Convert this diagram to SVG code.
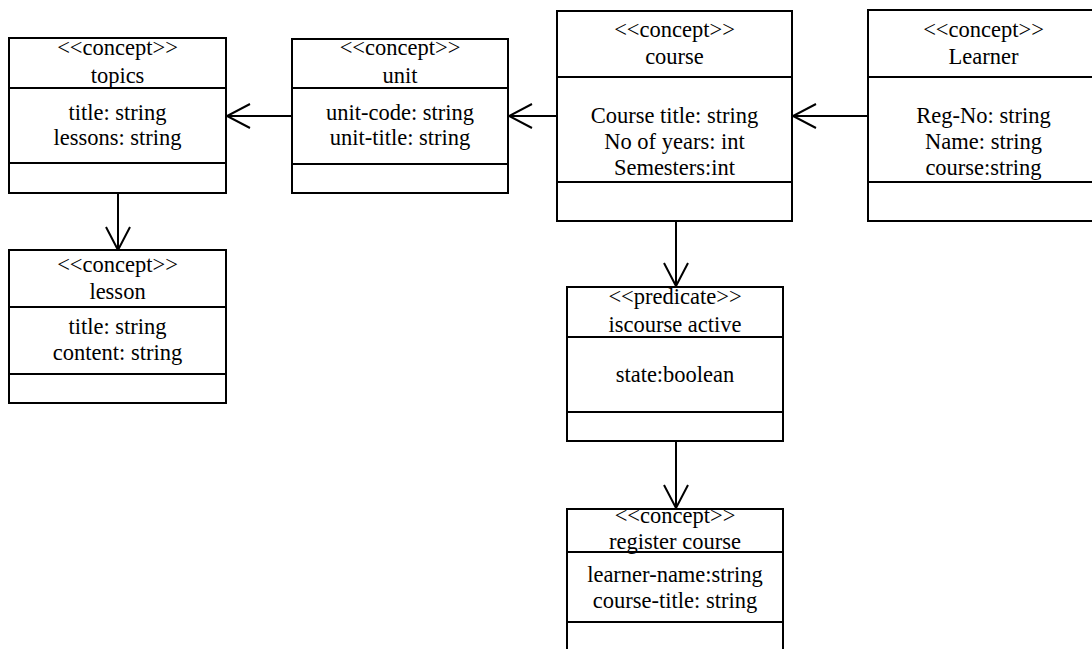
<svg xmlns="http://www.w3.org/2000/svg" width="1092" height="649" viewBox="0 0 1092 649">
<style>
.box{fill:#fff;stroke:#000;stroke-width:2}
.div{stroke:#000;stroke-width:2}
text{font-family:'Liberation Serif',serif;font-size:22.5px;fill:#000;text-anchor:middle}
.conn{stroke:#000;stroke-width:2;fill:none;marker-end:url(#open)}
</style>
<defs>
<marker id="open" markerUnits="userSpaceOnUse" markerWidth="30" markerHeight="30" viewBox="-26 -15 30 30" refX="0" refY="0" orient="auto">
<path d="M -23 -12 L 0 0 L -23 12" fill="none" stroke="#000" stroke-width="2"/>
</marker>
</defs>
<rect width="1092" height="649" fill="#fff"/>
<g id="connectors">
<line class="conn" x1="292" y1="116" x2="227" y2="116"/>
<line class="conn" x1="557" y1="116" x2="509" y2="116"/>
<line class="conn" x1="868" y1="116" x2="793" y2="116"/>
<line class="conn" x1="118" y1="193" x2="118" y2="250"/>
<line class="conn" x1="676" y1="221" x2="676" y2="286"/>
<line class="conn" x1="676" y1="441" x2="676" y2="508"/>
</g>
<g id="topics">
<rect class="box" x="9" y="38" width="217" height="155"/>
<line class="div" x1="9" y1="88" x2="226" y2="88"/>
<line class="div" x1="9" y1="163" x2="226" y2="163"/>
<text x="117.5" y="55">&lt;&lt;concept&gt;&gt;</text>
<text x="117.5" y="83">topics</text>
<text x="117.5" y="119.5">title: string</text>
<text x="117.5" y="145">lessons: string</text>
</g>
<g id="unit">
<rect class="box" x="292" y="39" width="216" height="154"/>
<line class="div" x1="292" y1="88" x2="508" y2="88"/>
<line class="div" x1="292" y1="164" x2="508" y2="164"/>
<text x="400" y="55">&lt;&lt;concept&gt;&gt;</text>
<text x="400" y="83">unit</text>
<text x="400" y="119.5">unit-code: string</text>
<text x="400" y="145">unit-title: string</text>
</g>
<g id="course">
<rect class="box" x="557" y="11" width="235" height="210"/>
<line class="div" x1="557" y1="77" x2="792" y2="77"/>
<line class="div" x1="557" y1="182" x2="792" y2="182"/>
<text x="674.5" y="37">&lt;&lt;concept&gt;&gt;</text>
<text x="674.5" y="64">course</text>
<text x="674.5" y="123">Course title: string</text>
<text x="674.5" y="149">No of years: int</text>
<text x="674.5" y="175">Semesters:int</text>
</g>
<g id="learner">
<rect class="box" x="868" y="10" width="232" height="211"/>
<line class="div" x1="868" y1="77" x2="1100" y2="77"/>
<line class="div" x1="868" y1="182" x2="1100" y2="182"/>
<text x="983.5" y="37">&lt;&lt;concept&gt;&gt;</text>
<text x="983.5" y="64">Learner</text>
<text x="983.5" y="123">Reg-No: string</text>
<text x="983.5" y="149">Name: string</text>
<text x="983.5" y="175">course:string</text>
</g>
<g id="lesson">
<rect class="box" x="9" y="250" width="217" height="153"/>
<line class="div" x1="9" y1="307" x2="226" y2="307"/>
<line class="div" x1="9" y1="374" x2="226" y2="374"/>
<text x="117.5" y="272">&lt;&lt;concept&gt;&gt;</text>
<text x="117.5" y="299">lesson</text>
<text x="117.5" y="334">title: string</text>
<text x="117.5" y="360">content: string</text>
</g>
<g id="iscourse-active">
<rect class="box" x="567" y="287" width="216" height="154"/>
<line class="div" x1="567" y1="337" x2="783" y2="337"/>
<line class="div" x1="567" y1="412" x2="783" y2="412"/>
<text x="675" y="304">&lt;&lt;predicate&gt;&gt;</text>
<text x="675" y="332">iscourse active</text>
<text x="675" y="382">state:boolean</text>
</g>
<g id="register-course">
<rect class="box" x="567" y="509" width="216" height="150"/>
<line class="div" x1="567" y1="552" x2="783" y2="552"/>
<line class="div" x1="567" y1="622" x2="783" y2="622"/>
<text x="675" y="523">&lt;&lt;concept&gt;&gt;</text>
<text x="675" y="549">register course</text>
<text x="675" y="582">learner-name:string</text>
<text x="675" y="608">course-title: string</text>
</g>
</svg>
